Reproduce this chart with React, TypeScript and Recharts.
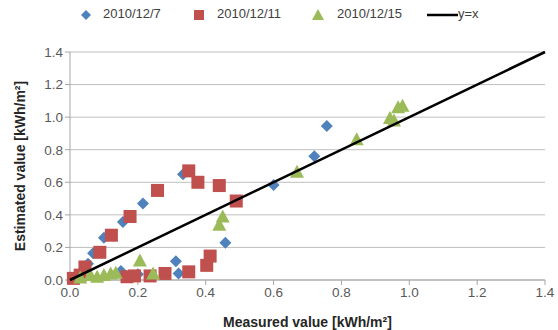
import React from 'react';
import { ScatterChart, Scatter, XAxis, YAxis, CartesianGrid, Label } from 'recharts';

// measured (x) vs estimated (y), kWh/m2
const dec7 = [
  { x: 0.02, y: 0.02 }, { x: 0.053, y: 0.1 }, { x: 0.068, y: 0.165 }, { x: 0.1, y: 0.26 },
  { x: 0.156, y: 0.356 }, { x: 0.215, y: 0.47 }, { x: 0.333, y: 0.65 }, { x: 0.15, y: 0.055 },
  { x: 0.2, y: 0.035 }, { x: 0.312, y: 0.115 }, { x: 0.32, y: 0.04 }, { x: 0.458, y: 0.228 },
  { x: 0.6, y: 0.583 }, { x: 0.72, y: 0.76 }, { x: 0.757, y: 0.945 },
];
const dec11 = [
  { x: 0.01, y: 0.01 }, { x: 0.03, y: 0.03 }, { x: 0.044, y: 0.08 }, { x: 0.088, y: 0.17 },
  { x: 0.122, y: 0.275 }, { x: 0.177, y: 0.39 }, { x: 0.258, y: 0.55 }, { x: 0.35, y: 0.67 },
  { x: 0.377, y: 0.6 }, { x: 0.44, y: 0.58 }, { x: 0.49, y: 0.485 }, { x: 0.168, y: 0.02 },
  { x: 0.19, y: 0.025 }, { x: 0.236, y: 0.025 }, { x: 0.28, y: 0.04 }, { x: 0.35, y: 0.05 },
  { x: 0.403, y: 0.09 }, { x: 0.413, y: 0.147 },
];
const dec15 = [
  { x: 0.03, y: 0.015 }, { x: 0.06, y: 0.03 }, { x: 0.08, y: 0.02 }, { x: 0.1, y: 0.03 },
  { x: 0.12, y: 0.04 }, { x: 0.135, y: 0.045 }, { x: 0.206, y: 0.12 }, { x: 0.245, y: 0.04 },
  { x: 0.44, y: 0.34 }, { x: 0.45, y: 0.39 }, { x: 0.669, y: 0.665 }, { x: 0.845, y: 0.865 },
  { x: 0.943, y: 0.995 }, { x: 0.955, y: 0.98 }, { x: 0.967, y: 1.06 }, { x: 0.98, y: 1.07 },
];
const identity = [{ x: 0, y: 0 }, { x: 1.4, y: 1.4 }];
const ticks = [0, 0.2, 0.4, 0.6, 0.8, 1.0, 1.2, 1.4];

const BLUE = '#4F81BD';
const RED = '#C0504D';
const GREEN = '#9BBB59';
const FONT = '"Liberation Sans", Arial, sans-serif';

const Diamond = (p: any) => (
  <path d={`M${p.cx},${p.cy - 6}L${p.cx + 6},${p.cy}L${p.cx},${p.cy + 6}L${p.cx - 6},${p.cy}Z`} fill={BLUE} />
);
const Square = (p: any) => <rect x={p.cx - 6.5} y={p.cy - 6.5} width={13} height={13} fill={RED} />;
const Triangle = (p: any) => (
  <path d={`M${p.cx},${p.cy - 7}L${p.cx + 7},${p.cy + 6}L${p.cx - 7},${p.cy + 6}Z`} fill={GREEN} />
);

const legendItem = { position: 'absolute' as const, top: 6, fontSize: 13, color: '#404040' };
const tickStyle = { fill: '#595959', fontSize: 13.5, fontFamily: FONT };
const titleStyle = { fontWeight: 'bold', fontSize: 14, fill: '#262626', fontFamily: FONT };

export default function App() {
  return (
    <div style={{ position: 'fixed', left: 0, top: 0, width: 558, height: 330, background: '#fff', fontFamily: FONT }}>
      <svg style={{ position: 'absolute', left: 0, top: 0 }} width={558} height={30}>
        <path d="M86,10L91,15L86,20L81,15Z" fill={BLUE} />
        <rect x={194} y={10} width={10} height={10} fill={RED} />
        <path d="M318,9L324,20L312,20Z" fill={GREEN} />
        <line x1={427} y1={15} x2={458} y2={15} stroke="#000" strokeWidth={2.5} />
      </svg>
      <div style={{ ...legendItem, left: 103 }}>2010/12/7</div>
      <div style={{ ...legendItem, left: 217 }}>2010/12/11</div>
      <div style={{ ...legendItem, left: 337 }}>2010/12/15</div>
      <div style={{ ...legendItem, left: 458 }}>y=x</div>
      <ScatterChart width={558} height={330} margin={{ top: 52, right: 13, bottom: 0, left: 0 }}>
        <CartesianGrid horizontal vertical={false} stroke="#BFBFBF" />
        <XAxis
          type="number"
          dataKey="x"
          domain={[0, 1.4]}
          ticks={ticks}
          tickFormatter={(v: number) => v.toFixed(1)}
          tick={tickStyle}
          stroke="#A6A6A6"
          tickSize={5}
          height={50}
        >
          <Label value="Measured value [kWh/m²]" position="insideBottom" offset={3} style={titleStyle} />
        </XAxis>
        <YAxis
          type="number"
          dataKey="y"
          domain={[0, 1.4]}
          ticks={ticks}
          tickFormatter={(v: number) => v.toFixed(1)}
          tick={tickStyle}
          stroke="#A6A6A6"
          tickSize={5}
          width={70}
        >
          <Label value="Estimated value [kWh/m²]" angle={-90} position="insideLeft" offset={20} style={{ ...titleStyle, textAnchor: 'middle' }} />
        </YAxis>
        <Scatter data={dec7} shape={Diamond} isAnimationActive={false} />
        <Scatter data={dec11} shape={Square} isAnimationActive={false} />
        <Scatter data={dec15} shape={Triangle} isAnimationActive={false} />
        <Scatter data={identity} line={{ stroke: '#000', strokeWidth: 2.5 }} shape={() => <g />} isAnimationActive={false} />
      </ScatterChart>
    </div>
  );
}
